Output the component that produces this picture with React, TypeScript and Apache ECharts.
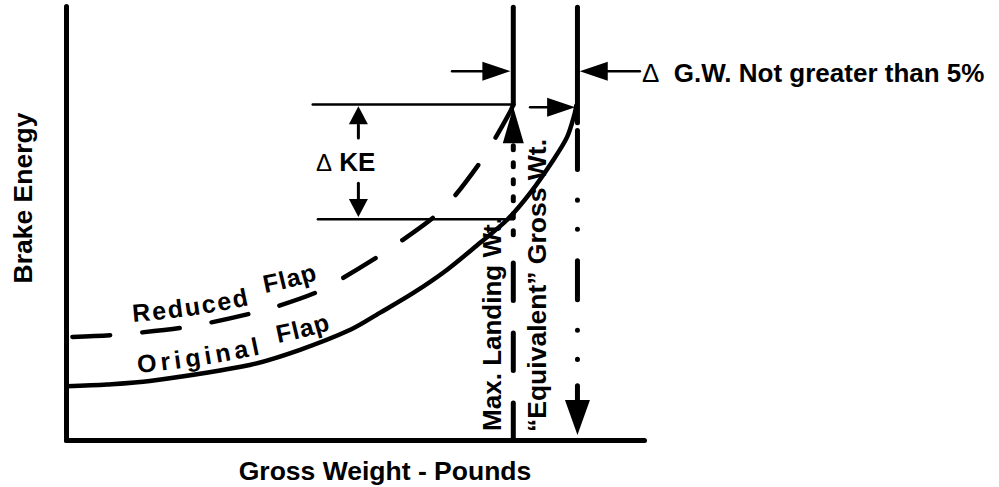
import React, { useEffect, useRef } from "react";
import * as echarts from "echarts";

// ---------- data (abstract units: weight 0-100, energy 0-100) ----------
const originalFlap: number[][] = [
  [0, 12.5], [7, 12.9], [14.4, 13.7], [31.7, 17.4], [40.4, 20.9], [49.1, 25.5],
  [54.2, 29.4], [60, 34], [65.8, 39.3], [71.5, 45.5], [76.2, 50.8], [80.2, 57],
  [84.2, 64.6], [86.6, 69.9], [87.9, 75.2], [88.2, 77.2],
];
const reducedFlap: number[][] = [
  [0, 23.8], [8, 24.3], [13, 24.9], [20, 26.0], [25, 27.2], [31.7, 29.2],
  [36.4, 30.9], [43, 34.0], [47, 36.8], [53.7, 42.2], [57.4, 45.5], [63.4, 51.3],
  [66.7, 55.6], [71.2, 63.4], [73.8, 68.8], [76.7, 75.6], [77.3, 77.4],
];
const maxLandingWt = 77.3;
const equivGrossWt = 88.4;
const keUpper = 77.4;
const keLower = 51.0;
const keLineStart = [42.6, 43.5];
const lineTop = 99.8;
const topArrowY = 85.1;
const midArrowY = 76.8;
const deltaKEx = 50.5;
const equivSolidEnd = 73.2;
const equivDashRange = [71.4, 18.6];
const equivShaft = [12.6, 8.9];
const equivArrowTip = 1.27;
const maxLongDashRange = [0, 41.6];
const maxShortDashRange = [47.4, 68.0];
const maxArrowTip = 76.8;
const topLeftShaft = [66.7, 73.3];
const topLeftTip = 76.8;
const topRightShaft = [93.2, 99.2];
const topRightTip = 88.8;
const midShaft = [80.2, 84.5];
const midTip = 88.0;
const keUpShaft = [69.7, 72.7];
const keUpTip = 77.0;
const keDownShaft = [59.3, 55.4];
const keDownTip = 51.5;

const labels = {
  yTitle: "Brake Energy",
  xTitle: "Gross Weight - Pounds",
  maxLanding: "Max. Landing Wt.",
  equiv: "\u201CEquivalent\u201D Gross Wt.",
  gw: "G.W. Not greater than 5%",
  ke: "KE",
};

const FONT = '"Liberation Sans", Arial, Helvetica, sans-serif';

function line(data: number[][], width: number, type: any = "solid", dashOffset = 0, smooth: number | boolean = false) {
  return {
    type: "line",
    data,
    symbol: "none",
    showSymbol: false,
    smooth,
    silent: true,
    clip: false,
    z: 3,
    lineStyle: { color: "#000", width, type, dashOffset, cap: "round", join: "round", opacity: 1 },
  };
}

// direction codes: 0 up, 1 down, 2 left, 3 right
const DIRS = { up: 0, down: 1, left: 2, right: 3 };
function head(x: number, y: number, w: number, h: number, dir: keyof typeof DIRS) {
  return [x, y, DIRS[dir], w, h];
}

function curvedText(text: string, x0: number, y0: number, a0: number, a1: number, fs: number, spacing: number) {
  const cv = document.createElement("canvas").getContext("2d")!;
  cv.font = `bold ${fs}px ${FONT}`;
  const capH = fs * 0.716;
  let px = x0, py = y0;
  const els: any[] = [];
  const n = text.length;
  for (let i = 0; i < n; i++) {
    const ch = text[i];
    const w = cv.measureText(ch).width;
    const t = n > 1 ? i / (n - 1) : 0;
    const a = ((a0 + (a1 - a0) * t) * Math.PI) / 180;
    const dx = Math.cos(a), dy = -Math.sin(a);
    const ux = -Math.sin(a), uy = -Math.cos(a);
    if (ch !== " ") {
      els.push({
        type: "text",
        x: px + (dx * w) / 2 + (ux * capH) / 2,
        y: py + (dy * w) / 2 + (uy * capH) / 2,
        rotation: a,
        silent: true,
        z: 10,
        style: { text: ch, font: `bold ${fs}px ${FONT}`, fill: "#000", align: "center", verticalAlign: "middle", textAlign: "center", textVerticalAlign: "middle" },
      });
    }
    px += dx * (w + spacing);
    py += dy * (w + spacing);
  }
  return els;
}

function txt(text: string, x: number, y: number, fs: number, opts: any = {}) {
  return {
    type: "text",
    x,
    y,
    rotation: opts.rotation || 0,
    scaleX: opts.scaleX || 1,
    silent: true,
    z: 10,
    style: {
      text,
      font: `bold ${fs}px ${FONT}`,
      fill: "#000",
      align: opts.align || "center",
      textAlign: opts.align || "center",
      verticalAlign: "middle",
      textVerticalAlign: "middle",
      rich: opts.rich,
    },
  };
}

function buildOption() {
  const arrowHeads = [
    head(maxLandingWt, maxArrowTip, 21, 36, "up"),
    head(equivGrossWt, equivArrowTip, 25, 35, "down"),
    head(topLeftTip, topArrowY, 19, 28, "right"),
    head(topRightTip, topArrowY, 19, 28, "left"),
    head(midTip, midArrowY, 19, 28, "right"),
    head(deltaKEx, keUpTip, 19, 18, "up"),
    head(deltaKEx, keDownTip, 19, 18, "down"),
  ];

  const series: any[] = [
    line(originalFlap, 4.5, "solid", 0, 0.3),
    line(reducedFlap, 4.5, [37.5, 32.5], 64.2, 0.3),
    line([[maxLandingWt, lineTop], [maxLandingWt, keUpper]], 5),
    line([[equivGrossWt, lineTop], [equivGrossWt, equivSolidEnd]], 5),
    line([[equivGrossWt, equivDashRange[0]], [equivGrossWt, equivDashRange[1]]], 5, [39, 30.5, 0.1, 29, 0.1, 31.4]),
    line([[equivGrossWt, equivShaft[0]], [equivGrossWt, equivShaft[1]]], 5),
    line([[maxLandingWt, maxLongDashRange[0]], [maxLandingWt, maxLongDashRange[1]]], 5, [37.5, 32.5]),
    line([[maxLandingWt, maxShortDashRange[0]], [maxLandingWt, maxShortDashRange[1]]], 5, [4, 13]),
    line([[keLineStart[0], keUpper], [maxLandingWt, keUpper]], 2.5),
    line([[keLineStart[1], keLower], [maxLandingWt, keLower]], 2.5),
    line([[topLeftShaft[0], topArrowY], [topLeftShaft[1], topArrowY]], 2.5),
    line([[topRightShaft[0], topArrowY], [topRightShaft[1], topArrowY]], 2.5),
    line([[midShaft[0], midArrowY], [midShaft[1], midArrowY]], 2.5),
    line([[deltaKEx, keUpShaft[0]], [deltaKEx, keUpShaft[1]]], 3),
    line([[deltaKEx, keDownShaft[0]], [deltaKEx, keDownShaft[1]]], 3),
    {
      type: "custom",
      data: arrowHeads,
      silent: true,
      clip: false,
      z: 4,
      encode: { x: 0, y: 1 },
      renderItem: (_params: any, api: any) => {
        const x = api.value(0), y = api.value(1), d = api.value(2), w = api.value(3), h = api.value(4);
        const [tx, ty] = api.coord([x, y]);
        const dirs = [[0, -1], [0, 1], [-1, 0], [1, 0]];
        const [dx, dy] = dirs[d];
        const bx = tx - dx * h, by = ty - dy * h;
        const nx = -dy, ny = dx;
        return {
          type: "polygon",
          shape: { points: [[tx, ty], [bx + (nx * w) / 2, by + (ny * w) / 2], [bx - (nx * w) / 2, by - (ny * w) / 2]] },
          style: { fill: "#000", stroke: "none" },
        };
      },
    },
  ];

  const graphics: any[] = [
    txt(labels.yTitle, 23, 198, 26.5, { rotation: Math.PI / 2 }),
    txt(labels.xTitle, 385, 471, 26.5),
    txt(labels.maxLanding, 492, 324, 26, { rotation: Math.PI / 2 }),
    txt(labels.equiv, 536.5, 285.5, 26.5, { rotation: Math.PI / 2 }),
    txt(`{d|\u0394}  {b|${labels.gw}}`, 642, 72.5, 26, {
      align: "left",
      rich: {
        d: { font: `26px ${FONT}`, fill: "#000" },
        b: { font: `bold 26px ${FONT}`, fill: "#000" },
      },
    }),
    txt(`{d|\u0394} {b|${labels.ke}}`, 316, 162, 26, {
      align: "left",
      rich: {
        d: { font: `24px ${FONT}`, fill: "#000" },
        b: { font: `bold 26px ${FONT}`, fill: "#000" },
      },
    }),
    ...curvedText("Reduced", 133, 322, 5, 12, 25, 2),
    ...curvedText("Flap", 265, 293, 12, 16, 25, 1),
    ...curvedText("Original", 138, 373, 6, 12, 25, 4.2),
    ...curvedText("Flap", 278, 343, 12, 16, 25, 1),
  ];

  return {
    animation: false,
    backgroundColor: "#fff",
    grid: { left: 66.5, top: 6.5, width: 578, height: 434, containLabel: false },
    xAxis: {
      type: "value",
      min: 0,
      max: 100,
      axisLine: { show: true, onZero: false, lineStyle: { color: "#000", width: 5, cap: "round" } },
      axisTick: { show: false },
      axisLabel: { show: false },
      splitLine: { show: false },
    },
    yAxis: {
      type: "value",
      min: 0,
      max: 100,
      axisLine: { show: true, onZero: false, lineStyle: { color: "#000", width: 5, cap: "round" } },
      axisTick: { show: false },
      axisLabel: { show: false },
      splitLine: { show: false },
    },
    series,
    graphic: { elements: graphics },
  };
}

export default function App() {
  const ref = useRef<HTMLDivElement>(null);
  useEffect(() => {
    const chart = echarts.init(ref.current!, null, { renderer: "svg" });
    chart.setOption(buildOption() as any);
    return () => chart.dispose();
  }, []);
  return (
    <div
      ref={ref}
      style={{ position: "fixed", left: 0, top: 0, width: 999, height: 487, background: "#fff" }}
    />
  );
}
